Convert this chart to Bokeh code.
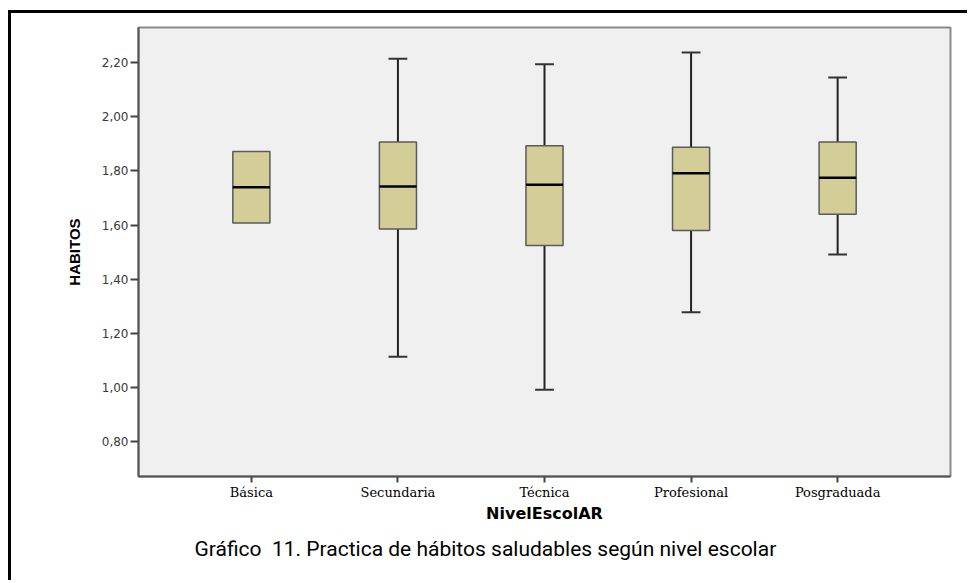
from bokeh.plotting import figure
from bokeh.models import (FactorRange, Range1d, FixedTicker, CustomJSTickFormatter,
                          Title, ColumnDataSource)
from bokeh.transform import dodge
from bokeh.embed import file_html
from bokeh.resources import INLINE

# Hábitos saludables por nivel escolar (resumen de cinco números)
niveles = ["Básica", "Secundaria", "Técnica", "Profesional", "Posgraduada"]
minimo = [1.608, 1.113, 0.991, 1.278, 1.491]
q1 = [1.608, 1.586, 1.525, 1.580, 1.640]
mediana = [1.740, 1.743, 1.749, 1.792, 1.775]
q3 = [1.872, 1.907, 1.893, 1.888, 1.907]
maximo = [1.872, 2.215, 2.195, 2.238, 2.146]
y_ticks = [0.8, 1.0, 1.2, 1.4, 1.6, 1.8, 2.0, 2.2]

titulo = "Gráfico\u00a0 11. Practica de hábitos saludables según nivel escolar"

src = ColumnDataSource(dict(nivel=niveles, minimo=minimo, q1=q1,
                            mediana=mediana, q3=q3, maximo=maximo))

# categories that actually have whiskers get caps
con_bigote = [i for i in range(len(niveles)) if maximo[i] > q3[i] or minimo[i] < q1[i]]
caps = ColumnDataSource(dict(
    nivel=[niveles[i] for i in con_bigote],
    minimo=[minimo[i] for i in con_bigote],
    maximo=[maximo[i] for i in con_bigote],
))

# the figure sits inside a black top/left rule (drawn as an offset shadow)
p = figure(
    width=963, height=570,
    x_range=FactorRange(*niveles, range_padding=0.108),
    y_range=Range1d(0.6706, 2.3305),
    output_backend="svg", toolbar_location=None, tools="",
    min_border_left=127, min_border_right=24, min_border_top=14, min_border_bottom=107,
)
p.styles = {
    "margin-left": "11px",
    "margin-top": "13px",
    "box-shadow": "-3px -3px 0px 0px black",
    "clip-path": "inset(-4px 7px -4px -4px)",
}
p.background_fill_color = "#f0f0f0"
p.border_fill_color = "white"
p.outline_line_color = "#8a8a8a"
p.outline_line_width = 2
p.grid.visible = False

# whiskers
p.segment(x0="nivel", x1="nivel", y0="q3", y1="maximo", source=src,
          line_color="#222222", line_width=2)
p.segment(x0="nivel", x1="nivel", y0="minimo", y1="q1", source=src,
          line_color="#222222", line_width=2)
for col in ("maximo", "minimo"):
    p.segment(x0=dodge("nivel", -0.064, range=p.x_range),
              x1=dodge("nivel", 0.064, range=p.x_range),
              y0=col, y1=col, source=caps, line_color="#333333", line_width=2)

# boxes
p.vbar(x="nivel", bottom="q1", top="q3", width=0.253, source=src,
       fill_color="#d3ce97", line_color="#5a5a5a", line_width=1.5)

# medians
p.segment(x0=dodge("nivel", -0.1265, range=p.x_range),
          x1=dodge("nivel", 0.1265, range=p.x_range),
          y0="mediana", y1="mediana", source=src,
          line_color="black", line_width=2.5)

# y axis
ya = p.yaxis[0]
ya.ticker = FixedTicker(ticks=y_ticks)
ya.formatter = CustomJSTickFormatter(code="return tick.toFixed(2).replace('.', ',');")
ya.axis_label = "HABITOS"
ya.axis_label_text_font = "Liberation Sans"
ya.axis_label_text_font_style = "bold"
ya.axis_label_text_font_size = "15px"
ya.axis_label_text_color = "black"
ya.axis_label_standoff = 16
ya.major_label_text_font = "DejaVu Sans"
ya.major_label_text_font_size = "12px"
ya.major_label_text_color = "#3a3a3a"
ya.major_label_standoff = 2
ya.major_tick_out = 8
ya.major_tick_in = 0
ya.major_tick_line_color = "#444444"
ya.major_tick_line_width = 2
ya.minor_tick_line_color = None
ya.axis_line_color = "#555555"
ya.axis_line_width = 2

# x axis
xa = p.xaxis[0]
xa.axis_label = "NivelEscolAR"
xa.axis_label_text_font = "DejaVu Sans"
xa.axis_label_text_font_style = "bold"
xa.axis_label_text_font_size = "16px"
xa.axis_label_text_color = "black"
xa.axis_label_standoff = 1
xa.major_label_text_font = "DejaVu Serif"
xa.major_label_text_font_size = "13px"
xa.major_label_text_color = "black"
xa.major_label_standoff = 2
xa.major_tick_out = 6
xa.major_tick_in = 0
xa.major_tick_line_color = "#444444"
xa.major_tick_line_width = 2
xa.axis_line_color = "#555555"
xa.axis_line_width = 2

# caption under the chart
p.add_layout(Title(text=titulo, align="left", offset=56, standoff=18,
                   text_font="Roboto", text_font_size="21px",
                   text_font_style="normal", text_color="black"), "below")

open("out.html", "w").write(file_html(p, INLINE))
